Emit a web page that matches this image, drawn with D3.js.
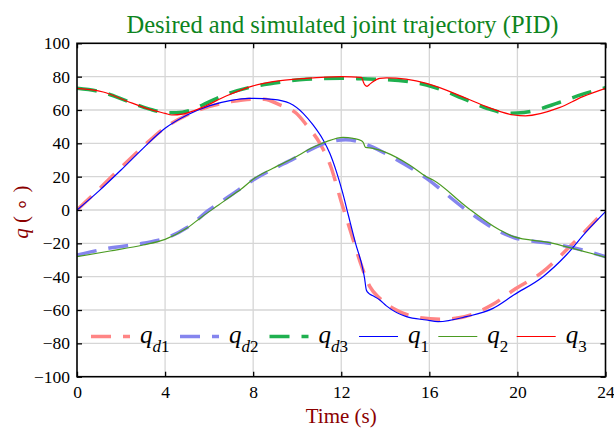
<!DOCTYPE html>
<html><head><meta charset="utf-8">
<script src="https://cdn.jsdelivr.net/npm/d3@7"></script>
<style>
html,body{margin:0;padding:0;background:#fff;}
svg{display:block;}
text{font-family:"Liberation Serif","Times New Roman",serif;}
</style></head>
<body>
<svg id="chart" width="614" height="428"></svg>
<script>
// ---- data ----
const xTicks = [0, 4, 8, 12, 16, 20, 24];
const yTicks = [-100, -80, -60, -40, -20, 0, 20, 40, 60, 80, 100];

const qd1 = [[0,0],[1,12.5],[2,25.5],[3,38],[4,49.5],[5,57],[6,62],[7,65],[8,66.5],[8.5,66.4],[9.21,63],[9.96,58],[10.42,51],[11.03,40],[11.5,27],[12.0,5],[12.45,-14],[12.88,-32],[13.3,-46],[13.75,-53],[14.5,-60],[15.5,-64.5],[16.5,-65.5],[17.2,-65],[18.89,-56.6],[19.83,-48],[21.16,-37],[22.22,-24],[23.13,-12],[24,0]];
const qd2 = [[0,-27],[1.42,-23],[3,-20],[4,-17],[5,-10.5],[6,0],[7,9],[8,18],[8.9,24.5],[9.81,30.5],[10.72,37],[11.5,41],[12.2,42.2],[12.8,41],[13.3,38.5],[14.05,33.6],[15.87,19],[17.68,0],[19.2,-13],[19.83,-16.5],[21.46,-20],[22.5,-22.5],[24,-28]];
const qd3 = [[0,73],[1.2,70.5],[2.25,65.5],[3.3,60.5],[4,58.5],[4.5,58.3],[5.3,60.5],[5.7,63],[6.8,69.5],[8,74],[8.9,76],[10.4,78.4],[12,79],[13,78.7],[13.75,78.4],[15.87,75],[17.68,66],[18.6,61],[19.6,58],[20.3,58.5],[21.9,64.5],[22.97,69.5],[24,73.4]];
const q1 = [[0,0],[1,11.5],[2,24],[3,37],[4,49],[5,57],[6,62.5],[7,65.8],[7.8,67],[8.9,66.4],[9.66,64],[10.27,58],[10.72,51],[11.18,42],[11.48,34],[11.78,23],[12.05,11],[12.32,-3],[12.65,-20],[12.99,-36],[13.06,-41],[13.14,-48],[13.25,-50],[13.44,-51.5],[13.75,-54],[14.05,-57.5],[14.96,-64],[15.87,-66],[16.4,-67],[17.68,-64],[18.89,-59],[19.83,-51],[21.16,-40],[22.22,-27],[23.13,-13],[24,-1]];
const q2 = [[0,-28],[1.5,-24.6],[3,-21],[4,-17.6],[4.98,-11],[5.68,-4],[6.43,3],[7.18,10],[7.4,12],[8,18.5],[8.9,25],[9.81,31],[10.72,37.6],[11.33,41],[12.08,43.6],[12.54,43],[12.92,41.6],[13.0,40.5],[13.1,37.6],[13.44,37],[14.05,34.4],[15.1,27],[15.87,20],[16.17,18],[17.68,2],[19.2,-12],[19.83,-16],[21.46,-19.6],[22.5,-23],[24,-28.4]];
const q3 = [[0,73],[1.19,70.8],[2.25,65.4],[3.3,60.4],[4,58],[4.3,57],[4.8,57.5],[5.3,59.5],[5.7,61.6],[6.8,68.5],[8,74.5],[8.9,77],[10.4,79],[12,80],[12.92,79.6],[13.0,77],[13.07,75],[13.17,74.2],[13.3,75.5],[13.44,77],[13.75,79],[14.05,79.2],[15.87,76],[17.68,67],[18.59,62],[19.83,57],[20.36,56.5],[21.9,61.4],[22.97,68],[24,73]];

const seriesNames = ["qd1","qd2","qd3","q1","q2","q3"];
const seriesData = [qd1, qd2, qd3, q1, q2, q3];
const legendSubItalic = ["d","d","d","","",""];
const legendSubUpright = ["1","2","3","1","2","3"];

// ---- styles ----
const styles = [
  {color:"#ff8585", width:3.5, dash:"20,12"},
  {color:"#8585ee", width:3.5, dash:"20,12"},
  {color:"#1fb04f", width:3.5, dash:"20,12"},
  {color:"#0000ff", width:1.2, dash:null},
  {color:"#4b9b22", width:1.2, dash:null},
  {color:"#ff0000", width:1.2, dash:null}
];

const svg = d3.select("#chart");
const L = 77, R = 605.5, T = 43.3, B = 376.7;
const x = d3.scaleLinear().domain([0,24]).range([L,R]);
const y = d3.scaleLinear().domain([-100,100]).range([B,T]);

// grid
const grid = svg.append("g");
grid.selectAll("line.gx").data(xTicks.slice(1,-1)).join("line")
  .attr("x1",d=>x(d)).attr("x2",d=>x(d)).attr("y1",T).attr("y2",B)
  .attr("stroke","#d6d6d6").attr("stroke-width",1.3);
grid.selectAll("line.gy").data(yTicks.slice(1,-1)).join("line")
  .attr("y1",d=>y(d)).attr("y2",d=>y(d)).attr("x1",L).attr("x2",R)
  .attr("stroke","#d6d6d6").attr("stroke-width",1.3);

// clip
svg.append("clipPath").attr("id","clip").append("rect")
  .attr("x",L).attr("y",T).attr("width",R-L).attr("height",B-T);

const line = d3.line().x(d=>x(d[0])).y(d=>y(d[1])).curve(d3.curveMonotoneX);
const plot = svg.append("g").attr("clip-path","url(#clip)");
seriesData.forEach((s,i)=>{
  const st = styles[i];
  plot.append("path").datum(s).attr("d",line)
    .attr("fill","none").attr("stroke",st.color).attr("stroke-width",st.width)
    .attr("stroke-dasharray",st.dash).attr("stroke-linejoin","round");
});

// axes
const fmt = d3.format("d");
const axB = d3.axisBottom(x).tickValues(xTicks).tickSize(-5).tickPadding(9).tickFormat(fmt);
const axL = d3.axisLeft(y).tickValues(yTicks).tickSize(-5).tickPadding(7).tickFormat(fmt);
const axT = d3.axisTop(x).tickValues(xTicks).tickSize(-5).tickFormat("");
const axR = d3.axisRight(y).tickValues(yTicks).tickSize(-5).tickFormat("");
function styleAxis(g){
  g.select(".domain").remove();
  g.selectAll(".tick line").attr("stroke","#000").attr("stroke-width",1.3);
  g.selectAll(".tick text").attr("fill","#000").style("font-size","17.5px")
    .style("font-family",'"Liberation Serif","Times New Roman",serif');
}
svg.append("g").attr("transform",`translate(0,${B})`).call(axB).call(styleAxis);
svg.append("g").attr("transform",`translate(${L},0)`).call(axL).call(styleAxis);
svg.append("g").attr("transform",`translate(0,${T})`).call(axT).call(styleAxis);
svg.append("g").attr("transform",`translate(${R},0)`).call(axR).call(styleAxis);

svg.append("rect").attr("x",L).attr("y",T).attr("width",R-L).attr("height",B-T)
  .attr("fill","none").attr("stroke","#000").attr("stroke-width",1.6);

// title
svg.append("text").attr("x",342.5).attr("y",32.5).attr("text-anchor","middle")
  .attr("fill","#0d8420").style("font-size","24.5px")
  .text("Desired and simulated joint trajectory (PID)");

// x label
svg.append("text").attr("x",(L+R)/2).attr("y",423).attr("text-anchor","middle")
  .attr("fill","#8b0000").style("font-size","21px").text("Time (s)");

// y label
const yl = svg.append("text").attr("transform","translate(28,212) rotate(-90)")
  .attr("text-anchor","middle").attr("fill","#8b0000").style("font-size","21px");
yl.append("tspan").style("font-style","italic").text("q");
yl.append("tspan").text(" ( \u2218 )");

// legend
const legX = [91, 180, 269.5, 359, 438.3, 516.7];
const legY = 336.5;
seriesNames.forEach((n,i)=>{
  const st = styles[i];
  const g = svg.append("g");
  g.append("line").attr("x1",legX[i]).attr("x2",legX[i]+39).attr("y1",legY).attr("y2",legY)
    .attr("stroke",st.color).attr("stroke-width",st.width).attr("stroke-dasharray",st.dash);
  const tx = legX[i]+49;
  g.append("text").attr("x",tx).attr("y",legY+6).attr("fill","#000")
    .style("font-size","25px").style("font-style","italic").text("q");
  const sub = g.append("text").attr("x",tx+12.5).attr("y",legY+15).attr("fill","#000")
    .style("font-size","17px");
  if (legendSubItalic[i]) sub.append("tspan").style("font-style","italic").text(legendSubItalic[i]);
  sub.append("tspan").style("font-style","normal").text(legendSubUpright[i]);
});
</script>
</body></html>
